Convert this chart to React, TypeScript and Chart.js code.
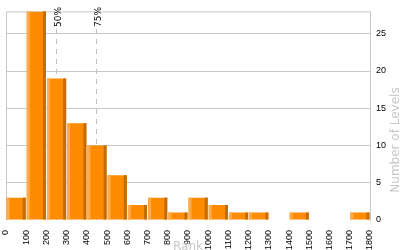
import React, { useEffect, useRef } from "react";
import { Chart, registerables } from "chart.js";

Chart.register(...registerables);

// Histogram bins (rank ranges, width 100)
const binStarts = [0, 100, 200, 300, 400, 500, 600, 700, 800, 900, 1000, 1100, 1200, 1300, 1400, 1500, 1600, 1700];
const binWidth = 100;
const levelCounts = [3, 28, 19, 13, 10, 6, 2, 3, 1, 3, 2, 1, 1, 0, 1, 0, 0, 1];
const percentileLabels = ["50%", "75%"];
const percentileRanks = [245, 447];
const xTitle = "Rank";
const yTitle = "Number of Levels";

const GRID = "#c8c8c8";
const TICK_FONT = "'Liberation Sans', Arial, sans-serif";
const TITLE_FONT = "'DejaVu Sans', Verdana, sans-serif";

const decorPlugin = {
  id: "decor",
  beforeDatasetsDraw(chart: any) {
    const { ctx, chartArea } = chart;
    const xs = chart.scales.x;
    ctx.save();
    ctx.strokeStyle = GRID;
    ctx.lineWidth = 1;
    ctx.beginPath();
    ctx.moveTo(chartArea.left + 0.5, chartArea.bottom);
    ctx.lineTo(chartArea.left + 0.5, chartArea.top + 0.5);
    ctx.lineTo(chartArea.right, chartArea.top + 0.5);
    ctx.stroke();
    percentileRanks.forEach((r, i) => {
      const px = Math.round(xs.getPixelForValue(r)) + 0.5;
      ctx.setLineDash([5, 5]);
      ctx.strokeStyle = "#c0c0c0";
      ctx.beginPath();
      ctx.moveTo(px, 29);
      ctx.lineTo(px, chartArea.bottom);
      ctx.stroke();
      ctx.setLineDash([]);
      ctx.save();
      ctx.translate(px + 4.5, 27);
      ctx.rotate(-Math.PI / 2);
      ctx.fillStyle = "#000";
      ctx.font = "9px " + TITLE_FONT;
      ctx.textAlign = "left";
      ctx.textBaseline = "alphabetic";
      ctx.fillText(percentileLabels[i], 0, 0);
      ctx.restore();
    });
    ctx.restore();
  },
  afterDatasetsDraw(chart: any) {
    const { ctx } = chart;
    const meta = chart.getDatasetMeta(0);
    ctx.save();
    meta.data.forEach((el: any) => {
      const { x, y, base, width } = el.getProps(["x", "y", "base", "width"], true);
      const h = base - y;
      if (h < 0.5) return;
      const left = x - width / 2;
      const right = x + width / 2;
      ctx.fillStyle = "#ffab4c";
      ctx.fillRect(left, y, 3, h);
      ctx.fillStyle = "#c46c00";
      ctx.fillRect(right - 3, y, 3, h);
    });
    ctx.restore();
  },
  afterDraw(chart: any) {
    const { ctx, chartArea } = chart;
    ctx.save();
    ctx.fillStyle = GRID;
    ctx.font = "12px " + TITLE_FONT;
    ctx.textAlign = "center";
    ctx.textBaseline = "alphabetic";
    ctx.fillText(xTitle, (chartArea.left + chartArea.right) / 2, 249.5);
    ctx.translate(399, 140);
    ctx.rotate(-Math.PI / 2);
    ctx.fillText(yTitle, 0, 0);
    ctx.restore();
  },
};

export default function App() {
  const ref = useRef<HTMLCanvasElement | null>(null);
  useEffect(() => {
    if (!ref.current) return;
    const data = binStarts.map((s, i) => ({ x: s + binWidth / 2, y: levelCounts[i] }));
    const chart = new Chart(ref.current, {
      type: "bar",
      data: {
        datasets: [
          {
            data,
            backgroundColor: "#ff8c00",
            borderWidth: 0,
            barPercentage: 0.95,
            categoryPercentage: 1,
          },
        ],
      },
      options: {
        animation: false,
        responsive: false,
        layout: { padding: { left: 6, top: 5, right: 0, bottom: 0 } },
        plugins: { legend: { display: false }, tooltip: { enabled: false } },
        scales: {
          x: {
            type: "linear",
            min: 0,
            max: 1800,
            offset: false,
            grid: { display: false },
            border: { display: false },
            afterFit: (s: any) => { s.height = 30; },
            ticks: {
              stepSize: 100,
              autoSkip: false,
              maxRotation: 90,
              minRotation: 90,
              padding: 2,
              color: "#000",
              font: { family: TICK_FONT, size: 9 },
              callback: (v: any) => String(v),
            },
          },
          y: {
            position: "right",
            min: 0,
            max: 28,
            grid: {
              color: (c: any) => (c.tick && c.tick.value === 0 ? "rgba(0,0,0,0)" : GRID),
              drawTicks: false,
            },
            border: { display: true, color: GRID },
            afterFit: (s: any) => { s.width = 30; },
            ticks: {
              stepSize: 5,
              includeBounds: false,
              padding: 6,
              color: "#000",
              font: { family: TICK_FONT, size: 9 },
              callback: (v: any) => String(v),
            },
          },
        },
      },
      plugins: [decorPlugin],
    } as any);
    return () => chart.destroy();
  }, []);
  return (
    <div style={{ position: "fixed", left: 0, top: 0, width: 400, height: 250, background: "#fff" }}>
      <canvas ref={ref} width={400} height={250} style={{ display: "block" }} />
    </div>
  );
}
